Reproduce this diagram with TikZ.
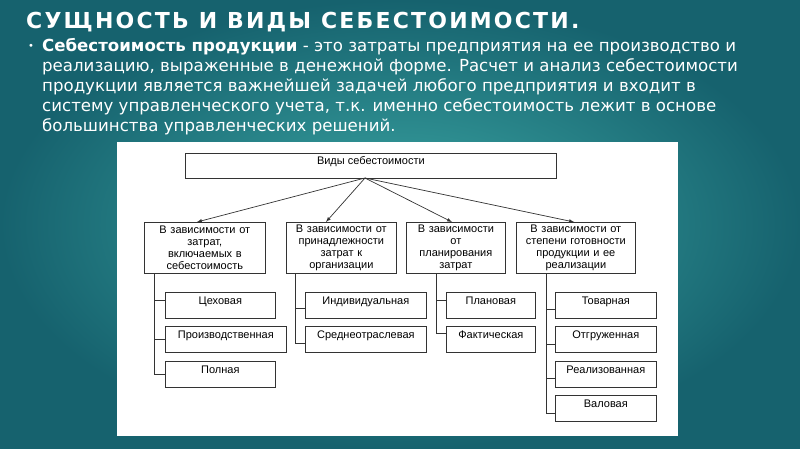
\documentclass[tikz,border=0pt]{standalone}
\usepackage{fontspec}
\setmainfont{DejaVu Sans}
\newfontfamily\titlef[LetterSpace=10]{DejaVu Sans}
\newfontfamily\diag{Liberation Sans}
\begin{document}
\begin{tikzpicture}[x=1pt,y=-1pt,
  bx/.style={draw=black!80,line width=0.7pt,fill=white,font=\diag\fontsize{11}{12}\selectfont,align=center,inner sep=1pt},
  ln/.style={draw=black!80,line width=0.7pt},
  ar/.style={ln,-latex}]
\useasboundingbox (0,0) rectangle (800,449);
\shade[inner color={rgb,255:red,60;green,168;blue,165},outer color={rgb,255:red,22;green,98;blue,110}] (0,0) rectangle (800,449);
\node[anchor=west,text=white,font=\titlef\bfseries\fontsize{22}{24}\selectfont,inner sep=0] (title) at (26,22) {СУЩНОСТЬ И ВИДЫ СЕБЕСТОИМОСТИ.};
\node[anchor=north west,text=white,font=\fontsize{16.6}{20}\selectfont,align=left,inner sep=0] (txt) at (42,38)
 {\textbf{Себестоимость продукции} - это затраты предприятия на ее производство и\\
 реализацию, выраженные в денежной форме. Расчет и анализ себестоимости\\
 продукции является важнейшей задачей любого предприятия и входит в\\
 систему управленческого учета, т.к. именно себестоимость лежит в основе\\
 большинства управленческих решений.};
\node[text=white,font=\fontsize{10}{10}\selectfont] (bul) at (31,47) {•};
\fill[white] (117,142) rectangle (678,436);
% top
\node[bx,anchor=north west,minimum width=371,minimum height=25,text depth=11pt] (top) at (185,153) {Виды себестоимости};
\coordinate (o) at (365,178);
% level 2
\node[bx,anchor=north west,text width=119,minimum height=51] (A) at (144,222) {В зависимости от\\ затрат,\\ включаемых в\\ себестоимость};
\node[bx,anchor=north west,text width=108,minimum height=51] (B) at (286,222) {В зависимости от\\ принадлежности\\ затрат к\\ организации};
\node[bx,anchor=north west,text width=97,minimum height=51] (C) at (406,222) {В зависимости\\ от\\ планирования\\ затрат};
\node[bx,anchor=north west,text width=117,minimum height=51] (D) at (516,222) {В зависимости от\\ степени готовности\\ продукции и ее\\ реализации};
\draw[ar] (o) -- (197,222);
\draw[ar] (o) -- (326,222);
\draw[ar] (o) -- (452,222);
\draw[ar] (o) -- (574,222);
% children
\tikzset{ch/.style={bx,anchor=north west,minimum height=26,text depth=9pt}}
\node[ch,minimum width=110] (a1) at (165,292) {Цеховая};
\node[ch,minimum width=121] (a2) at (165,326) {Производственная};
\node[ch,minimum width=110] (a3) at (165,361) {Полная};
\node[ch,minimum width=121] (b1) at (305,292) {Индивидуальная};
\node[ch,minimum width=121] (b2) at (305,326) {Среднеотраслевая};
\node[ch,minimum width=89] (c1) at (446,292) {Плановая};
\node[ch,minimum width=89] (c2) at (446,326) {Фактическая};
\node[ch,minimum width=101] (d1) at (555,292) {Товарная};
\node[ch,minimum width=101] (d2) at (555,326) {Отгруженная};
\node[ch,minimum width=101] (d3) at (555,361) {Реализованная};
\node[ch,minimum width=101] (d4) at (555,395) {Валовая};
\draw[ln] (A.south -| 154,0) |- (a3.west);
\draw[ln] (154,300) -- (a1.west|-0,300);
\draw[ln] (a2.west) -- (154,0|-a2.west);
\draw[ln] (B.south -| 295,0) |- (305,343);
\draw[ln] (295,308) -- (b1.west|-0,308);
\draw[ln] (C.south -| 436,0) |- (446,333);
\draw[ln] (436,300) -- (c1.west|-0,300);
\draw[ln] (D.south -| 546,0) |- (555,413);
\draw[ln] (546,309) -- (d1.west|-0,309);
\draw[ln] (546,344) -- (d2.west|-0,344);
\draw[ln] (546,378) -- (d3.west|-0,378);
\end{tikzpicture}
\end{document}
